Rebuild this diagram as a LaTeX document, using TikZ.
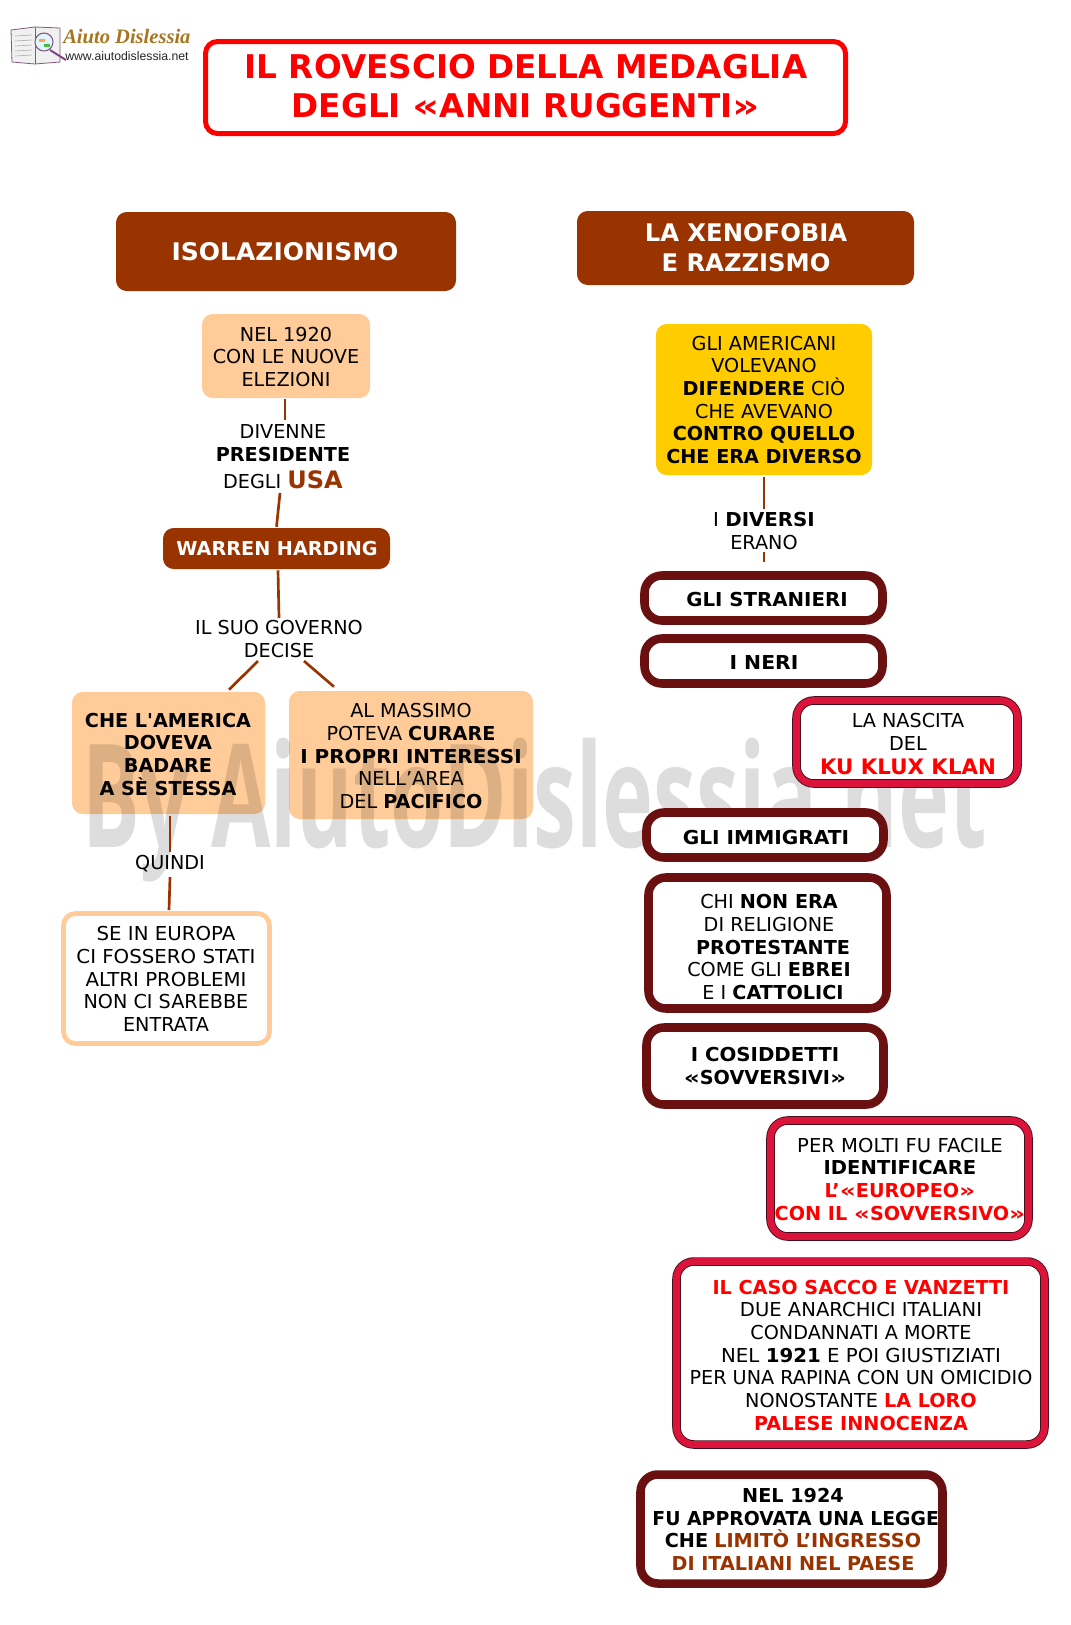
\documentclass[tikz,border=0pt]{standalone}
\usepackage{fontspec}
\usepackage{graphicx}
\setmainfont{DejaVu Sans}
\newfontfamily\plainfont{DejaVu Sans}
\newfontfamily\logoserif{Liberation Serif}
\newfontfamily\logosans{Liberation Sans}
\newfontfamily\wmfont{Open Sans}
\usetikzlibrary{shadows,calc}
\definecolor{maroonbox}{HTML}{993300}
\definecolor{peach}{HTML}{FFCC99}
\definecolor{gold}{HTML}{FFCC00}
\definecolor{darkred}{HTML}{6B1010}
\definecolor{crim}{HTML}{DC143C}
\definecolor{crimedge}{HTML}{4A0E1A}
\definecolor{logogold}{HTML}{A8741E}
\newcommand{\rd}[1]{\textcolor{red}{\textbf{#1}}}
\newcommand{\br}[1]{\textcolor{maroonbox}{\textbf{#1}}}
\newcommand{\sx}[2]{\scalebox{#1}[1]{#2}}
\newcommand{\gl}{\scalebox{1.3}[1]{«}}
\newcommand{\gr}{\scalebox{1.3}[1]{»}}
\newcommand{\bx}[7]{% style, name, x1,y1,x2,y2, stroke
  \pgfmathsetmacro{\cxv}{(#3+#5)/2}\pgfmathsetmacro{\cyv}{(#4+#6)/2}%
  \pgfmathsetmacro{\wv}{(#5-#3-#7)*0.75}\pgfmathsetmacro{\hv}{(#6-#4-#7)*0.75}%
  \node[#1,inner sep=0pt,minimum width=\wv pt,minimum height=\hv pt] (#2) at (\cxv,\cyv) {};}
\tikzset{
  x=0.75pt,y=-0.75pt,
  txt/.style={font=\fontsize{14.4}{17}\selectfont,align=center,inner sep=0pt,text=black},
  headtxt/.style={font=\fontsize{18.2}{22.5}\selectfont\bfseries,align=center,inner sep=0pt,text=white},
  titletxt/.style={font=\fontsize{24.5}{29}\selectfont\bfseries,align=center,inner sep=0pt,text=red},
  titlebox/.style={draw=red,line width=3.75pt,fill=white,rounded corners=9pt},
  headbox/.style={fill=maroonbox,rounded corners=8pt},
  peachbox/.style={fill=peach,rounded corners=8pt},
  goldbox/.style={fill=gold,rounded corners=8pt},
  peachline/.style={draw=peach,line width=3.6pt,fill=white,rounded corners=9pt},
  darkbox/.style={draw=darkred,line width=6.4pt,fill=white,rounded corners=13pt,
    drop shadow={shadow xshift=1.4pt,shadow yshift=-1.4pt,opacity=.28,fill=black}},
  crimbox/.style={draw=crimedge,line width=.7pt,double=crim,double distance=5pt,fill=white,rounded corners=13pt,
    drop shadow={shadow xshift=1.4pt,shadow yshift=-1.4pt,opacity=.28,fill=black}},
  conn/.style={draw=maroonbox,line width=2pt},
}
\begin{document}
\begin{tikzpicture}
\useasboundingbox (0,0) rectangle (1071,1625);
\fill[white] (0,0) rectangle (1071,1625);
% logo
\draw[draw=gray!70!violet,fill=gray!12,line width=.6pt] (11,30) -- (35,27) -- (60,28) -- (60,62) -- (35,64) -- (12,62) -- cycle;
\draw[gray!70!violet,line width=.5pt] (35,27) -- (35,64);
\foreach \ly in {36,41,46,51,56}{\draw[gray!60,line width=.5pt] (15,\ly) -- (32,\ly-1);}
\draw[violet!50!gray,line width=1.4pt] (50,50) -- (66,60);
\draw[gray!70!violet,fill=cyan!12,line width=.8pt] (44,42) circle (9);
\fill[orange!70] (39,39) rectangle (45,42);\fill[green!50!gray] (44,44) rectangle (50,47);
\node[inner sep=0pt,anchor=west,text=logogold] (logotitle) at (63,36) {\fontsize{15.4}{17}\logoserif\bfseries\itshape Aiuto Dislessia};
\node[inner sep=0pt,anchor=west,text=black!85] (logourl) at (65,56.5) {\fontsize{9.2}{11}\logosans www.aiutodislessia.net};
% title
\bx{titlebox}{title}{203}{39}{848}{136}{5}
\node[titletxt] (titlet) at (526,86) {IL ROVESCIO DELLA MEDAGLIA\\DEGLI \gl ANNI RUGGENTI\gr};
% heads
\bx{headbox}{iso}{116}{212}{456}{291}{0}
\node[headtxt] (isot) at (285,252) {\sx{1.03}{ISOLAZIONISMO}};
\bx{headbox}{xeno}{577}{211}{914}{285}{0}
\node[headtxt] (xenot) at (746,248) {LA XENOFOBIA\\E RAZZISMO};
% left column
\bx{peachbox}{nel}{202}{314}{370}{398}{0}
\node[txt] (nelt) at (286,357) {NEL 1920\\CON LE NUOVE\\ELEZIONI};
\node[txt] (divenne) at (283,457) {DIVENNE\\\textbf{PRESIDENTE}\\[3.5pt]DEGLI \br{\fontsize{18}{17}\selectfont USA}};
\bx{headbox}{warren}{163}{528}{390}{569}{0}
\node[txt,text=white,font=\fontsize{14.4}{17}\selectfont\bfseries] (warrent) at (277,549) {WARREN HARDING};
\node[txt] (suo) at (279,639) {IL SUO GOVERNO\\DECISE};
\bx{peachbox}{che}{72}{692}{265}{814}{0}
\node[txt] (chet) at (168,754) {\textbf{CHE L{\plainfont '}AMERICA}\\\textbf{DOVEVA}\hspace{5pt}\\\textbf{BADARE}\\\textbf{A SÈ STESSA}};
\bx{peachbox}{massimo}{289}{691}{533}{819}{0}
\node[txt] (massimot) at (411,756) {AL MASSIMO\\POTEVA \textbf{CURARE}\\\sx{1.04}{\textbf{I PROPRI INTERESSI}}\\NELL’AREA\\DEL \textbf{PACIFICO}};
% right top
\bx{goldbox}{yellow}{656}{324}{872}{475}{0}
\node[txt] (yellowt) at (764,400) {GLI AMERICANI\\VOLEVANO\\\textbf{DIFENDERE} CIÒ\\CHE AVEVANO\\\textbf{CONTRO QUELLO}\\\textbf{CHE ERA DIVERSO}};
% watermark (over the peach boxes, under the white framed boxes)
\node[anchor=base,inner sep=0pt,text=black,text opacity=.135] (wm) at (534.5,847) {\resizebox{678pt}{82pt}{\wmfont\bfseries By AiutoDislessia.net}};
% left lower
\node[txt] (quindi) at (170,863.5) {QUINDI};
\bx{peachline}{seeuropa}{61}{911}{272}{1046}{5}
\node[txt] (seeuropat) at (166,979) {\sx{1.03}{SE IN EUROPA}\\\sx{1.03}{CI FOSSERO STATI}\\\sx{1.03}{ALTRI PROBLEMI}\\NON CI SAREBBE\\ENTRATA};
% right column
\node[txt] (diversi) at (764,531) {\sx{1.03}{I \textbf{DIVERSI}}\\ERANO};
\bx{darkbox}{stranieri}{640}{571}{887}{625}{9}
\node[txt] (stranierit) at (767,600) {\sx{1.03}{\textbf{GLI STRANIERI}}};
\bx{darkbox}{neri}{640}{634}{887}{688}{9}
\node[txt] (nerit) at (764,662) {\sx{1.06}{\textbf{I NERI}}};
\bx{crimbox}{kkk}{792}{696}{1022}{788}{9}
\node[txt] (kkkt) at (908,744) {LA NASCITA\\DEL\\[1pt]\rd{\fontsize{16}{17}\selectfont KU KLUX KLAN}};
\bx{darkbox}{immigrati}{642}{808}{888}{862}{9}
\node[txt] (immigratit) at (766,837) {\sx{1.05}{\textbf{GLI IMMIGRATI}}};
\bx{darkbox}{nonera}{644}{873}{891}{1013}{9}
\node[txt] (nonerat) at (769,947) {CHI \textbf{NON ERA}\\DI RELIGIONE\\\hspace{6pt}\textbf{PROTESTANTE}\\COME GLI \textbf{EBREI}\\\hspace{6pt}E I \textbf{CATTOLICI}};
\bx{darkbox}{sovv}{642}{1023}{888}{1109}{9}
\node[txt] (sovvt) at (765,1066) {\sx{1.03}{\textbf{I COSIDDETTI}}\\\textbf{\gl SOVVERSIVI\gr}};
\bx{crimbox}{molti}{766}{1116}{1033}{1241}{9}
\node[txt] (moltit) at (900,1179) {\sx{1.02}{PER MOLTI FU FACILE}\\\sx{1.02}{\textbf{IDENTIFICARE}}\\\rd{L’\gl EUROPEO\gr}\\\rd{CON IL \gl SOVVERSIVO\gr}};
\bx{crimbox}{caso}{672}{1257}{1049}{1449}{9}
\node[txt] (casot) at (861,1355) {\rd{IL CASO SACCO E VANZETTI}\\\sx{1.02}{DUE ANARCHICI ITALIANI}\\CONDANNATI A MORTE\\\sx{1.03}{NEL \textbf{1921} E POI GIUSTIZIATI}\\PER UNA RAPINA CON UN OMICIDIO\\NONOSTANTE \rd{LA LORO}\\\rd{PALESE INNOCENZA}};
\bx{darkbox}{legge}{636}{1470}{947}{1588}{9}
\node[txt] (legget) at (793,1529.5) {\textbf{NEL 1924}\\\hspace{4pt}\sx{.98}{\textbf{FU APPROVATA UNA LEGGE}}\\\textbf{CHE} \br{LIMITÒ L’INGRESSO}\\\br{DI ITALIANI NEL PAESE}};
% connectors
\draw[conn] ([shift={(-1,1)}]nel.south) -- ([shift={(2,-37)}]divenne.center);
\draw[conn] ([shift={(-3,36)}]divenne.center) -- ([shift={(0,-1)}]warren.north);
\draw[conn] ([shift={(1.5,1)}]warren.south) -- ([shift={(0,-21)}]suo.center);
\draw[conn] ([shift={(-21,22)}]suo.center) -- ([shift={(60.5,-2)}]che.north);
\draw[conn] ([shift={(25,22)}]suo.center) -- ([shift={(-77,-4)}]massimo.north);
\draw[conn] ([shift={(1.5,2)}]che.south) -- ([shift={(0,-11.5)}]quindi.center);
\draw[conn] ([shift={(0,13.5)}]quindi.center) -- ([shift={(2.5,-1)}]seeuropa.north);
\draw[conn] ([shift={(0,2)}]yellow.south) -- ([shift={(0,-22)}]diversi.center);
\draw[conn] ([shift={(0,21)}]diversi.center) -- ([shift={(.5,-9)}]stranieri.north);
\end{tikzpicture}
\end{document}
